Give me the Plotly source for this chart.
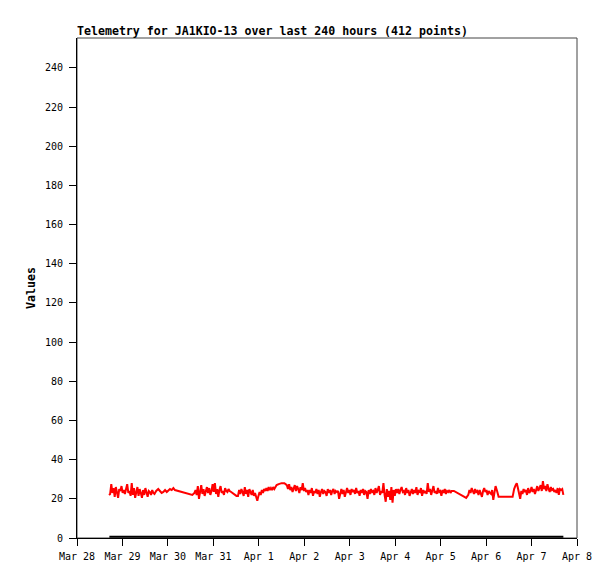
import pandas as pd
import plotly.graph_objects as go

title_text = "Telemetry for JA1KIO-13 over last 240 hours (412 points)"
y_title = "Values"
start_day = "2024-03-28 00:00"
end_day = "2024-04-08 00:00"
y_ticks = [0, 20, 40, 60, 80, 100, 120, 140, 160, 180, 200, 220, 240]

# hours since Mar 28 00:00 for the red series
hours = [
    16.9, 17.5, 18.1, 18.7, 19.3, 19.9, 20.5, 21.1, 21.7, 22.3, 22.9, 23.5, 24.1, 24.7, 25.3, 25.9, 26.5, 27.1, 27.7, 28.3,
    28.9, 29.5, 30.1, 30.7, 31.3, 31.9, 32.5, 33.1, 33.7, 34.3, 34.9, 35.5, 36.1, 36.7, 37.3, 37.9, 38.5, 39.1, 39.7, 40.3, 40.9,
    41.8, 42.9, 43.8, 44.7, 45.6, 46.5, 47.4, 48.2, 49.1, 50.0, 50.9, 51.7, 53.5, 56.1, 58.8, 60.9,
    62.0, 62.6, 63.2, 63.8, 64.4, 65.0, 65.6, 66.2, 66.8, 67.4, 68.0, 68.6, 69.2, 69.8, 70.4, 71.0, 71.6, 72.2, 72.8, 73.4,
    74.0, 74.6, 75.2, 75.8, 76.4, 77.0, 77.6, 78.2, 78.8, 79.4, 80.0, 80.6,
    81.4, 82.8, 84.2, 85.0,
    85.6, 86.2, 86.8, 87.4, 88.0, 88.6, 89.2, 89.8, 90.4, 91.0, 91.6, 92.2, 92.8, 93.4, 94.0, 94.6, 95.2,
    95.8, 96.4, 97.0, 97.6, 98.2, 98.8, 99.4, 100.0, 100.6, 101.2, 101.8, 102.4, 103.0, 103.6, 104.2, 104.8, 105.4,
    106.5, 108.0, 109.5, 110.8,
    111.4, 112.0, 112.6, 113.2, 113.8, 114.4, 115.0, 115.6, 116.2, 116.8, 117.4, 118.0, 118.6, 119.2, 119.8, 120.4, 121.0, 121.6,
    122.2, 122.8, 123.4, 124.0, 124.6, 125.2, 125.8, 126.4, 127.0, 127.6, 128.2, 128.8, 129.4, 130.0, 130.6, 131.2, 131.8,
    132.4, 133.0, 133.6, 134.2, 134.8, 135.4, 136.0, 136.6, 137.2,
    137.8, 138.4, 139.0, 139.6, 140.2, 140.8, 141.4, 142.0, 142.6, 143.2, 143.8, 144.4, 145.0, 145.6, 146.2, 146.8, 147.4,
    148.0, 148.6, 149.2, 149.8, 150.4, 151.0, 151.6, 152.2, 152.8, 153.4, 154.0, 154.6, 155.2, 155.8, 156.4, 157.0, 157.6,
    158.2, 158.8, 159.4, 160.0, 160.6, 161.2,
    161.8, 162.4, 163.0, 163.6, 164.2, 164.8, 165.4, 166.0, 166.6, 167.2, 167.8, 168.4,
    169.0, 169.6, 170.2, 170.8, 171.4, 172.0, 172.6, 173.2, 173.8, 174.4, 175.0, 175.6, 176.2, 176.8, 177.4, 178.0, 178.6,
    179.2, 179.8, 180.4, 181.0, 181.6, 182.2, 182.8, 183.4, 184.0, 184.6, 185.2, 185.8, 186.4, 187.0, 187.6, 188.2, 188.8,
    189.4, 190.0, 190.6, 191.2, 191.8, 192.4, 193.0, 193.6, 194.2, 194.8, 195.4, 196.0, 196.6, 197.2, 197.8,
    199.0, 201.0, 203.5, 205.5,
    206.6, 207.2, 207.8, 208.4, 209.0, 209.6, 210.2, 210.8, 211.4, 212.0, 212.6, 213.2, 213.8, 214.4, 215.0, 215.6, 216.2,
    216.8, 217.4, 218.0, 218.6, 219.2, 219.8, 220.4, 221.0, 221.8, 222.6,
    230.0, 230.8, 231.6, 232.2, 232.8, 233.4, 234.0,
    234.6, 235.2, 235.8, 236.4, 237.0, 237.6, 238.2, 238.8, 239.4, 240.0, 240.6, 241.2, 241.8, 242.4, 243.0, 243.6, 244.2,
    244.8, 245.4, 246.0, 246.6, 247.2, 247.8, 248.4, 249.0, 249.6, 250.2, 250.8, 251.4, 252.0, 252.6, 253.2, 253.8, 254.4,
    255.0, 255.6, 256.2, 256.8,
]

values = [
    22.0, 22.5, 27.5, 23.0, 25.5, 21.0, 26.0, 23.5, 20.5, 25.0, 24.0, 26.5, 23.0, 24.5, 22.5, 25.0, 27.5, 23.0, 24.0, 21.5,
    28.0, 22.0, 25.5, 20.5, 24.0, 26.0, 21.5, 25.0, 23.0, 20.5, 24.5, 22.0, 25.5, 23.0, 21.0, 24.0, 23.5, 22.0, 24.5, 23.0, 22.5,
    24.0, 25.0, 24.0, 23.0, 23.5, 24.5, 23.5, 24.5, 25.0, 24.5, 25.5, 24.5, 24.0, 23.5, 22.5, 22.0,
    23.0, 24.5, 22.0, 26.5, 20.0, 24.0, 27.0, 22.5, 25.0, 21.5, 24.5, 26.0, 23.0, 25.5, 22.0, 24.0, 27.5, 23.5, 28.0, 22.5,
    25.0, 21.0, 24.5, 26.5, 23.0, 24.0, 22.0, 25.5, 24.0, 23.5, 25.0, 24.0,
    23.5, 22.5, 21.5, 21.5,
    24.5, 22.5, 25.0, 23.5, 21.5, 26.0, 22.5, 24.5, 21.0, 25.0, 23.0, 22.0, 24.5, 21.5, 23.0, 20.0, 19.0,
    21.5, 23.5, 22.0, 24.5, 23.0, 25.0, 24.0, 25.5, 24.0, 26.0, 24.5, 25.5, 24.5, 26.0, 25.0, 26.5, 27.0,
    27.5, 28.0, 28.0, 27.0,
    25.0, 27.5, 24.5, 26.0, 23.5, 25.5, 27.0, 24.0, 26.5, 25.0, 23.0, 26.0, 24.5, 28.0, 24.0, 25.5, 23.5, 24.5,
    22.0, 24.5, 23.0, 25.5, 21.5, 24.0, 23.0, 25.0, 22.5, 24.5, 21.0, 23.5, 25.0, 22.5, 24.0, 23.5, 21.5,
    25.0, 23.0, 24.5, 22.0, 24.0, 25.0, 22.5, 24.0, 23.5,
    24.0, 20.0, 23.5, 25.0, 22.5, 24.5, 21.0, 24.0, 25.5, 23.0, 24.5, 22.0, 25.0, 23.5, 24.5, 22.5, 25.5,
    23.0, 24.0, 21.5, 24.5, 23.0, 25.0, 22.0, 24.0, 23.5, 20.0, 24.5, 22.5, 25.0, 23.5, 24.0, 22.0, 25.5,
    23.0, 24.5, 26.5, 22.0, 24.0, 23.0,
    28.0, 22.0, 18.5, 25.0, 21.0, 24.0, 19.5, 26.0, 18.0, 24.5, 21.5, 25.0,
    23.0, 25.0, 22.5, 24.5, 26.0, 23.5, 24.0, 22.0, 25.5, 23.0, 24.5, 21.5, 24.0, 25.0, 22.5, 24.5, 23.0,
    26.0, 22.0, 24.0, 23.5, 25.5, 21.5, 24.5, 23.0, 24.0, 22.5, 28.0, 23.5, 25.0, 22.0, 24.5, 26.5, 23.0,
    24.0, 22.5, 25.5, 23.5, 24.0, 21.5, 24.5, 23.0, 25.0, 22.5, 24.0, 23.5, 24.5, 23.0, 24.0,
    24.0, 23.0, 21.5, 20.5,
    22.0, 24.5, 23.0, 25.5, 24.0, 22.5, 25.0, 23.5, 24.0, 22.0, 24.5, 23.0, 21.0, 24.0, 25.5, 23.5, 24.5,
    22.0, 24.0, 23.0, 22.5, 24.5, 19.5, 23.0, 26.5, 24.0, 21.0,
    21.0, 25.0, 27.0, 28.0, 25.5, 22.0, 20.0,
    24.0, 22.5, 25.0, 23.5, 24.5, 22.0, 25.5, 23.0, 24.0, 26.0, 23.5, 25.0, 22.5, 24.5, 26.5, 24.0, 25.5,
    27.0, 24.0, 29.0, 25.0, 26.5, 24.0, 27.5, 25.0, 23.5, 26.0, 24.5, 25.0, 23.5, 24.5, 23.0, 25.5,
    22.0, 25.0, 24.5, 25.0, 22.0,
]

# second (black) series, near zero
black_hours = [17.1, 256.8]
black_values = [0.6, 0.6]

n = min(len(hours), len(values))
base = pd.Timestamp(start_day)
red_x = base + pd.to_timedelta(hours[:n], unit="h")
black_x = base + pd.to_timedelta(black_hours, unit="h")

fig = go.Figure()
fig.add_trace(go.Scatter(x=black_x, y=black_values, mode="lines",
                         line=dict(color="#000000", width=2), hoverinfo="skip"))
fig.add_trace(go.Scatter(x=red_x, y=values[:n], mode="lines",
                         line=dict(color="#ff0000", width=2)))

mono = "DejaVu Sans Mono"
# the page body adds an 8px offset, so the figure is 8px smaller and margins shifted
fig.update_layout(
    width=607, height=571,
    margin=dict(l=69, r=38, t=30, b=41),
    paper_bgcolor="white", plot_bgcolor="white",
    showlegend=False,
    title=dict(text="<b>" + title_text + "</b>", x=69 / 607, xanchor="left",
               y=1 - 23 / 571, yanchor="middle", yref="container",
               font=dict(family=mono, size=11.6, color="#000000")),
    xaxis=dict(range=[start_day, end_day], type="date", dtick=86400000,
               tick0=start_day, tickformat="%b %-d", ticks="outside", ticklen=7,
               tickcolor="#000000", showline=True, linecolor="#000000", linewidth=1,
               showgrid=False, zeroline=False, ticklabelstandoff=2,
               tickfont=dict(family=mono, size=10, color="#000000")),
    yaxis=dict(range=[0, 255.3], tickvals=y_ticks, ticks="outside", ticklen=7,
               tickcolor="#000000", showline=True, linecolor="#000000", linewidth=1,
               showgrid=False, zeroline=False, ticklabelstandoff=4,
               tickfont=dict(family=mono, size=10, color="#000000")),
    shapes=[dict(type="rect", xref="paper", yref="paper", x0=0, x1=1, y0=0, y1=1,
                 line=dict(color="#444444", width=1), layer="below")],
    annotations=[dict(text="<b>" + y_title + "</b>", xref="paper", yref="paper",
                      x=(31 - 77) / 500, y=0.5, textangle=-90, showarrow=False,
                      xanchor="center", yanchor="middle",
                      font=dict(family=mono, size=11.6, color="#000000"))],
)

fig.write_html("out.html")
